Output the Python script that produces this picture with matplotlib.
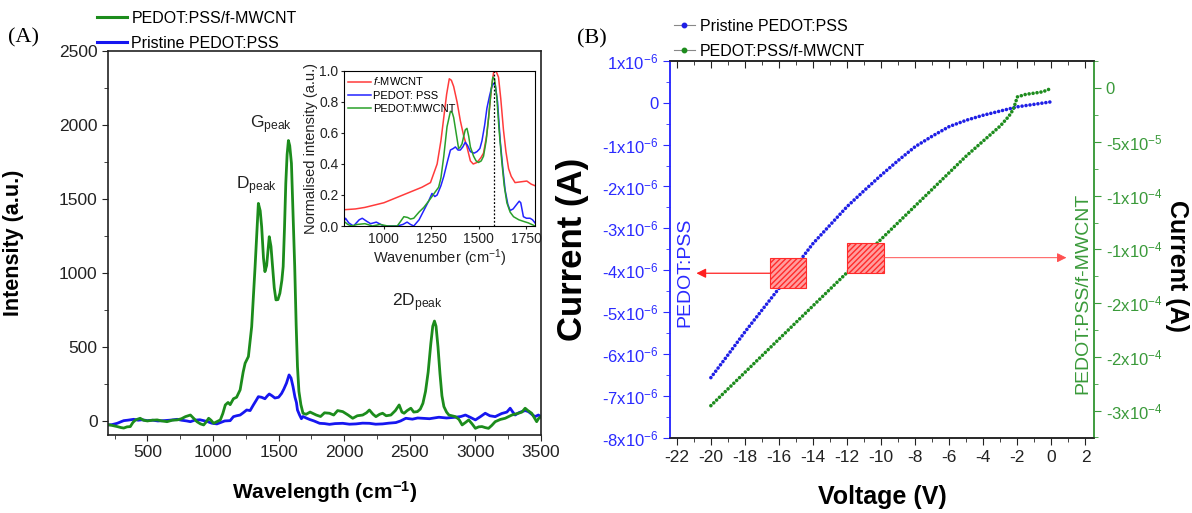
import matplotlib
matplotlib.use("Agg")
import matplotlib.pyplot as plt
from matplotlib.lines import Line2D
from matplotlib.patches import Rectangle
from matplotlib.ticker import MultipleLocator, FixedLocator, FixedFormatter, FuncFormatter
import numpy as np

plt.rcParams['font.family'] = ['Liberation Sans', 'DejaVu Sans']
plt.rcParams['mathtext.fontset'] = 'custom'
plt.rcParams['mathtext.rm'] = 'Liberation Sans'
plt.rcParams['mathtext.it'] = 'Liberation Sans:italic'
plt.rcParams['mathtext.bf'] = 'Liberation Sans:bold'
plt.rcParams['axes.unicode_minus'] = False

# ---------------- Panel A data (Raman) ----------------
green_x = [200, 230, 270, 300, 320, 345, 370, 390, 410, 445, 470, 500, 540, 575, 610, 650, 690, 727, 760, 790,
           828, 850, 878, 905, 929, 950, 967, 985, 1005, 1030, 1056, 1075, 1094, 1115, 1131, 1156, 1180, 1207, 1230, 1245,
           1270, 1295, 1321, 1346, 1360, 1371, 1385, 1396, 1409, 1429, 1442, 1454, 1467, 1480, 1495, 1510, 1525, 1535, 1545, 1555,
           1565, 1575, 1585, 1598, 1610, 1623, 1634, 1644, 1655, 1670, 1686, 1710, 1740, 1787, 1820, 1850, 1888, 1920, 1950, 1989,
           2030, 2065, 2100, 2141, 2170, 2192, 2220, 2242, 2270, 2293, 2320, 2356, 2390, 2419, 2440, 2457, 2480, 2508, 2530, 2558,
           2580, 2600, 2620, 2640, 2660, 2675, 2688, 2700, 2715, 2730, 2745, 2760, 2780, 2798, 2848, 2875, 2899, 2925, 2949, 2975,
           3000, 3025, 3050, 3075, 3100, 3125, 3151, 3190, 3227, 3255, 3278, 3300, 3328, 3355, 3379, 3400, 3429, 3450, 3467, 3480, 3500]
green_y = [-25, -30, -38, -45, -48, -40, -38, -10, 7, 18, 5, 0, 5, 7, 0, -5, 5, 7, 15, 29,
           40, 20, -5, -20, -27, -5, 18, 5, -16, -5, 7, 50, 108, 125, 110, 150, 160, 210, 330, 390,
           435, 637, 1043, 1470, 1420, 1313, 1100, 1009, 1050, 1245, 1180, 1043, 900, 818, 820, 863, 950, 1043, 1300, 1606,
           1800, 1895, 1860, 1741, 1400, 1043, 650, 367, 200, 110, 52, 45, 60, 40, 30, 55, 52, 40, 70, 63,
           40, 18, 35, 40, 55, 74, 45, 29, 45, 52, 35, 40, 70, 108, 60, 52, 70, 86, 60, 63,
           80, 119, 200, 330, 520, 640, 675, 640, 500, 320, 170, 97, 60, 40, 29, 10, -27, -10, 7, -20,
           -50, -40, -38, -45, -50, -30, -5, 10, 18, 30, 40, 45, 52, 60, 86, 70, 52, 20, -5, 15, 29]

blue_x = [200, 230, 270, 300, 320, 350, 396, 430, 460, 500, 540, 580, 625, 670, 700, 727, 760, 800, 828, 860,
          900, 929, 960, 990, 1030, 1060, 1090, 1131, 1156, 1180, 1207, 1230, 1257, 1283, 1308, 1330, 1346, 1370, 1396, 1415,
          1429, 1450, 1472, 1500, 1523, 1540, 1560, 1580, 1595, 1610, 1625, 1636, 1644, 1660, 1674, 1686, 1710, 1737, 1770, 1813,
          1850, 1888, 1930, 1989, 2040, 2090, 2140, 2192, 2240, 2293, 2340, 2394, 2430, 2470, 2520, 2560, 2596, 2650, 2700, 2722,
          2780, 2848, 2890, 2924, 2960, 3000, 3040, 3075, 3110, 3151, 3200, 3240, 3265, 3285, 3303, 3330, 3353, 3380, 3404, 3430,
          3454, 3480, 3500]
blue_y = [-27, -25, -16, -5, 2, 5, 11, 5, 8, 2, 5, 0, 2, 5, 8, 11, 5, 0, -5, 5,
          8, 2, -5, -15, -20, -10, 0, 2, 29, 35, 40, 55, 74, 70, 108, 140, 164, 160, 150, 170,
          182, 170, 155, 160, 186, 215, 255, 311, 290, 232, 160, 125, 74, 40, 15, 30, 20, 10, 0, -16,
          -18, -23, -18, -16, -22, -20, -15, -16, -22, -20, -15, -11, 0, 18, 12, 20, 18, 15, 22, 25,
          20, 25, 30, 40, 25, 7, 30, 52, 35, 29, 50, 60, 86, 60, 40, 55, 63, 70, 63, 45,
          29, 40, 29]

# inset (normalised)
red_ix = [790, 850, 900, 1000, 1060, 1100, 1140, 1200, 1245, 1280, 1300, 1315, 1330, 1344, 1355, 1367, 1385, 1402, 1420,
          1437, 1455, 1470, 1490, 1510, 1524, 1540, 1551, 1565, 1577, 1590, 1603, 1615, 1629, 1642, 1656, 1670, 1690, 1720, 1752, 1775, 1795]
red_iy = [0.105, 0.11, 0.12, 0.15, 0.18, 0.20, 0.22, 0.25, 0.28, 0.40, 0.55, 0.70, 0.85, 0.95, 0.94, 0.90, 0.80, 0.68, 0.58,
          0.51, 0.42, 0.40, 0.41, 0.44, 0.47, 0.58, 0.70, 0.88, 0.99, 1.00, 0.96, 0.82, 0.62, 0.48, 0.37, 0.32, 0.28, 0.285, 0.29, 0.27, 0.26]
blu_ix = [790, 798, 815, 840, 870, 886, 910, 930, 960, 1000, 1040, 1070, 1100, 1122, 1140, 1157, 1185, 1210, 1235, 1253,
          1268, 1280, 1300, 1315, 1335, 1350, 1365, 1376, 1390, 1402, 1415, 1428, 1440, 1455, 1475, 1490, 1505, 1516, 1530, 1542,
          1556, 1568, 1578, 1586, 1598, 1612, 1625, 1638, 1652, 1664, 1680, 1699, 1712, 1720, 1734, 1750, 1769, 1782, 1795]
blu_iy = [0.03, 0.05, 0.02, 0.0, 0.04, 0.05, 0.03, 0.015, 0.025, 0.0, 0.0, 0.0, 0.01, 0.025, 0.01, 0.0, 0.04, 0.10, 0.16, 0.21,
          0.19, 0.20, 0.26, 0.32, 0.42, 0.49, 0.50, 0.51, 0.49, 0.49, 0.51, 0.54, 0.52, 0.48, 0.47, 0.48, 0.50, 0.55, 0.65, 0.76,
          0.84, 0.90, 0.92, 0.91, 0.80, 0.55, 0.38, 0.23, 0.14, 0.10, 0.11, 0.14, 0.16, 0.15, 0.06, 0.05, 0.05, 0.04, 0.02]
grn_ix = [790, 810, 830, 860, 900, 940, 980, 1020, 1050, 1070, 1088, 1105, 1125, 1140, 1157, 1185, 1210, 1235, 1253, 1270,
          1288, 1300, 1315, 1332, 1350, 1360, 1367, 1380, 1393, 1402, 1411, 1420, 1428, 1437, 1446, 1455, 1472, 1485, 1498, 1512,
          1524, 1538, 1551, 1562, 1573, 1582, 1594, 1606, 1620, 1633, 1647, 1664, 1682, 1710, 1734, 1760, 1795]
grn_iy = [0.03, 0.01, 0.0, 0.01, 0.015, 0.0, 0.01, 0.0, 0.0, 0.0, 0.03, 0.06, 0.055, 0.045, 0.05, 0.09, 0.12, 0.16, 0.19, 0.22,
          0.25, 0.31, 0.45, 0.64, 0.74, 0.73, 0.70, 0.60, 0.50, 0.51, 0.53, 0.58, 0.62, 0.63, 0.58, 0.51, 0.45, 0.42, 0.41, 0.42,
          0.45, 0.55, 0.70, 0.85, 0.96, 0.95, 0.83, 0.62, 0.42, 0.26, 0.15, 0.09, 0.06, 0.04, 0.03, 0.02, 0.0]
g_peak_line = 1578

# ---------------- Panel B data (I-V) ----------------
volt_blue = [-20, -19, -18, -17, -16, -15, -14, -13, -12, -11, -10, -9, -8, -7, -6, -5, -4, -3, -2, -1, 0]
curr_blue_uA = [-6.56, -6.02, -5.47, -4.95, -4.43, -3.89, -3.36, -2.92, -2.48, -2.10, -1.73, -1.38, -1.05, -0.80,
                -0.57, -0.42, -0.30, -0.20, -0.10, -0.04, 0.02]
volt_green = [-20, -19, -18, -17, -16, -15, -14, -13, -12, -11, -10, -9, -8, -7, -6, -5, -4, -3, -2.5, -2.25,
              -2, -1.5, -1, -0.5, 0]
curr_green_1e5 = [-29.55, -28.0, -26.45, -24.9, -23.35, -21.8, -20.25, -18.7, -17.15, -15.6, -14.05, -12.5, -10.95,
                  -9.4, -7.85, -6.3, -4.9, -3.5, -2.6, -2.0, -0.8, -0.56, -0.45, -0.32, 0.0]

right_tick_vals = [0, -5e-5, -1e-4, -1.5e-4, -2e-4, -2.5e-4, -3e-4]
right_tick_labels = ['0', r'-5x10$^{-5}$', r'-1x10$^{-4}$', r'-1x10$^{-4}$', r'-2x10$^{-4}$', r'-2x10$^{-4}$', r'-3x10$^{-4}$']

W, H = 1192, 513
fig = plt.figure(figsize=(W / 100, H / 100), dpi=100)

def box(l, t, r, b):
    return [l / W, 1 - b / H, (r - l) / W, (b - t) / H]

GREEN_A = '#1c8c1c'
BLUE_A = '#1616f0'

# ----- Panel A -----
axA = fig.add_axes(box(108, 51, 541, 435))
axA.plot(blue_x, blue_y, color=BLUE_A, lw=2.0, label='Pristine PEDOT:PSS')
axA.plot(green_x, green_y, color=GREEN_A, lw=2.0, label='PEDOT:PSS/f-MWCNT')
axA.set_xlim(200, 3500)
axA.set_ylim(-95, 2500)
axA.xaxis.set_major_locator(MultipleLocator(500))
axA.xaxis.set_minor_locator(MultipleLocator(250))
axA.yaxis.set_major_locator(MultipleLocator(500))
axA.yaxis.set_minor_locator(MultipleLocator(250))
axA.tick_params(which='both', direction='out', top=False, right=False, labelsize=12.5, colors='#222222')
axA.tick_params(which='major', length=4)
axA.tick_params(which='minor', length=3)
for s in axA.spines.values():
    s.set_linewidth(1.2)
    s.set_color('#222222')
axA.set_xlabel('Wavelength (cm$^{\\mathbf{-1}}$)', fontsize=15, fontweight='bold')
axA.xaxis.set_label_coords(0.5, -0.115)
axA.set_ylabel('Intensity (a.u.)', fontsize=15.5, fontweight='bold')
axA.yaxis.set_label_coords(-0.195, 0.5)

axA.text(1178, 1590, r'D$_{\mathregular{peak}}$', fontsize=12.5, ha='left', va='center', color='#222222')
axA.text(1283, 2000, r'G$_{\mathregular{peak}}$', fontsize=12.5, ha='left', va='center', color='#222222')
axA.text(2366, 797, r'2D$_{\mathregular{peak}}$', fontsize=12.5, ha='left', va='center', color='#222222')

hA = [Line2D([], [], color=GREEN_A, lw=2.2), Line2D([], [], color=BLUE_A, lw=2.2)]
fig.legend(hA, ['PEDOT:PSS/f-MWCNT', 'Pristine PEDOT:PSS'], loc='upper left',
           bbox_to_anchor=(97 / W, 1 - 11 / H), frameon=False, fontsize=11.5,
           handlelength=1.9, handletextpad=0.25, labelspacing=0.6, borderpad=0, borderaxespad=0)

fig.text(8 / W, 1 - 38 / H, '(A)', fontsize=16, family='Liberation Serif', va='center', ha='left')

# inset
axI = fig.add_axes(box(344, 71, 535, 226))
axI.plot(red_ix, red_iy, color='#ff3b3b', lw=1.1, label='$f$-MWCNT')
axI.plot(blu_ix, blu_iy, color='#2323ff', lw=1.1, label='PEDOT: PSS')
axI.plot(grn_ix, grn_iy, color='#2aa02a', lw=1.1, label='PEDOT:MWCNT')
axI.plot([g_peak_line, g_peak_line], [0, 1.0], color='black', lw=0.9, ls=(0, (1.5, 1.5)))
axI.set_xlim(790, 1795)
axI.set_ylim(0, 1.0)
axI.xaxis.set_major_locator(FixedLocator([1000, 1250, 1500, 1750]))
axI.yaxis.set_major_locator(MultipleLocator(0.2))
axI.yaxis.set_major_formatter(FuncFormatter(lambda v, p: f'{v:.1f}'))
axI.tick_params(direction='out', length=2.5, labelsize=10, pad=1.5, colors='#222222')
for s in axI.spines.values():
    s.set_linewidth(0.8)
axI.set_xlabel('Wavenumber (cm$^{-1}$)', fontsize=10.5, labelpad=1, color='#222222')
axI.set_ylabel('Normalised intensity (a.u.)', fontsize=10.5, labelpad=1, color='#222222')
axI.legend(loc='upper left', frameon=False, fontsize=8, handlelength=2.0, handletextpad=0.2,
           labelspacing=0.3, borderpad=0.3, borderaxespad=0.1)

# ----- Panel B -----
BLUE_B = '#1f1fe6'
GREEN_B = '#1d8c1d'
AX_BLUE = '#2a2aff'
AX_GREEN = '#3a9a3a'

axB = fig.add_axes(box(670, 60.7, 1094, 438))
axB2 = axB.twinx()
dot = dict(ls=(0, (0.01, 1.1)), lw=2.6, dash_capstyle='round')
axB.plot(volt_blue, np.array(curr_blue_uA) * 1e-6, color=BLUE_B, **dot)
axB2.plot(volt_green, np.array(curr_green_1e5) * 1e-5, color=GREEN_B, **dot)

axB.set_xlim(-22.4, 2.5)
axB.set_ylim(-8e-6, 1e-6)
axB2.set_ylim(-3.256e-4, 2.57e-5)
axB.xaxis.set_major_locator(MultipleLocator(2))
axB.xaxis.set_minor_locator(MultipleLocator(1))
axB.yaxis.set_major_locator(MultipleLocator(1e-6))
axB.yaxis.set_minor_locator(MultipleLocator(0.5e-6))

def lfmt(v, p):
    n = int(round(v * 1e6))
    if n == 0:
        return '0'
    return f'{n}x10$^{{-6}}$'
axB.yaxis.set_major_formatter(FuncFormatter(lfmt))
axB2.yaxis.set_major_locator(FixedLocator(right_tick_vals))
axB2.yaxis.set_major_formatter(FixedFormatter(right_tick_labels))
axB2.yaxis.set_minor_locator(MultipleLocator(2.5e-5))

axB.tick_params(axis='x', which='both', direction='out', bottom=True, top=False, labelsize=12.5, colors='#222222')
axB.tick_params(axis='x', which='major', length=5)
axB.tick_params(axis='x', which='minor', length=3)
sec = axB.secondary_xaxis('top')
sec.xaxis.set_major_locator(MultipleLocator(2))
sec.xaxis.set_minor_locator(MultipleLocator(1))
sec.tick_params(which='both', direction='in', labeltop=False, colors='#222222')
sec.tick_params(which='major', length=5)
sec.tick_params(which='minor', length=3)
sec.spines['top'].set_visible(False)

axB.tick_params(axis='y', which='both', direction='out', colors=AX_BLUE, labelsize=12)
axB.tick_params(axis='y', which='major', length=5)
axB.tick_params(axis='y', which='minor', length=3)
axB2.tick_params(axis='y', which='both', direction='out', colors=AX_GREEN, labelsize=12)
axB2.tick_params(axis='y', which='major', length=5)
axB2.tick_params(axis='y', which='minor', length=3)
for ax in (axB, axB2):
    ax.spines['left'].set_color(AX_BLUE)
    ax.spines['right'].set_color(AX_GREEN)
    ax.spines['top'].set_color('#222222')
    ax.spines['bottom'].set_color('#222222')
    for s in ax.spines.values():
        s.set_linewidth(1.1)

axB.set_xlabel('Voltage (V)', fontsize=18, fontweight='bold')
axB.xaxis.set_label_coords(0.5, -0.125)
axB.set_ylabel('Current (A)', fontsize=25, fontweight='bold', color='black')
axB.yaxis.set_label_coords(-0.19, 0.5)
axB2.set_ylabel('Current (A)', fontsize=18, fontweight='bold', color='black', rotation=270, va='center', ha='center')
axB2.yaxis.set_label_coords(1.196, 0.455)

axB.text(-21.5, -4.05e-6, 'PEDOT:PSS', rotation=90, color=AX_BLUE, fontsize=14, ha='center', va='center')
axB.text(1.85, -4.55e-6, 'PEDOT:PSS/f-MWCNT', rotation=90, color=AX_GREEN, fontsize=14, ha='center', va='center')

# hatched boxes and arrows
r1 = Rectangle((-16.51, -4.43e-6), 2.08, 0.72e-6, facecolor=(1, 0.62, 0.62), edgecolor='#ff2a2a',
               hatch='//////', lw=0.8, zorder=3)
axB.add_patch(r1)
axB.annotate('', xy=(-20.85, -4.07e-6), xytext=(-16.51, -4.07e-6),
             arrowprops=dict(arrowstyle='-|>', color='#ff2020', lw=0.9, mutation_scale=14, shrinkA=0, shrinkB=0))
r2 = Rectangle((-11.99, -1.722e-4), 2.14, 0.279e-4, facecolor=(1, 0.62, 0.62), edgecolor='#ff2a2a',
               hatch='//////', lw=0.8, zorder=3)
axB2.add_patch(r2)
axB2.annotate('', xy=(0.88, -1.577e-4), xytext=(-9.85, -1.577e-4),
              arrowprops=dict(arrowstyle='-|>', color='#ff5050', lw=0.7, mutation_scale=14, shrinkA=0, shrinkB=0))

hB = [Line2D([], [], color='#888888', lw=0.8, marker='o', ms=3.2, mfc=BLUE_B, mec=BLUE_B),
      Line2D([], [], color='#888888', lw=0.8, marker='o', ms=3.2, mfc=GREEN_B, mec=GREEN_B)]
fig.legend(hB, ['Pristine PEDOT:PSS', 'PEDOT:PSS/f-MWCNT'], loc='upper left',
           bbox_to_anchor=(674 / W, 1 - 19 / H), frameon=False, fontsize=11.5,
           handlelength=1.3, handletextpad=0.3, labelspacing=0.6, borderpad=0, borderaxespad=0)

fig.text(577 / W, 1 - 39 / H, '(B)', fontsize=16, family='Liberation Serif', va='center', ha='left')

fig.savefig('out.png', dpi=100)
